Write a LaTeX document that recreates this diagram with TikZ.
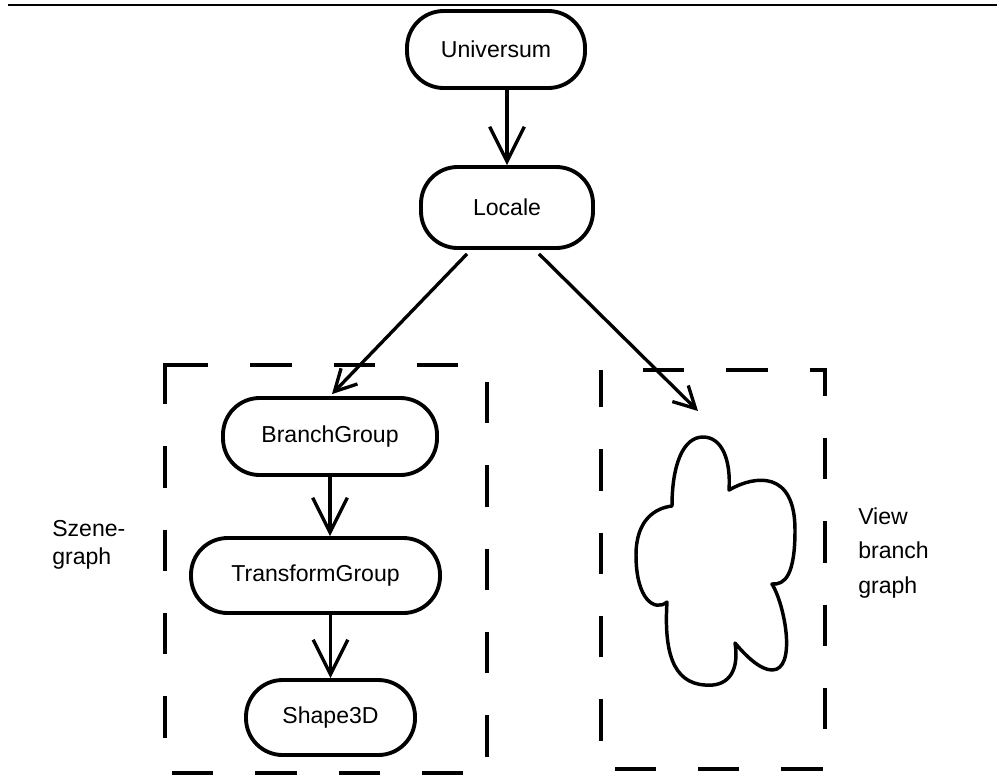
\documentclass[tikz,border=0pt]{standalone}
\usepackage{fontspec}
\setmainfont{Liberation Sans}
\usetikzlibrary{arrows.meta,calc}
\begin{document}
\begin{tikzpicture}[x=0.75pt,y=-0.75pt,
  block/.style={draw, line width=2.9pt, rounded corners=27.5pt, inner sep=0pt,
    font=\fontsize{17.3}{21}\selectfont},
  flow/.style={line width=2.5pt,
    -{Straight Barb[length=26pt,width=26pt,line width=2.5pt]}},
  flowsmall/.style={line width=2.5pt,
    -{Straight Barb[length=16pt,width=17pt,line width=2.5pt]}},
  frame/.style={line width=3pt, dash pattern=on 31pt off 31.5pt},
  note/.style={inner sep=0pt, align=left, anchor=west,
    font=\fontsize{17.3}{21}\selectfont}
]
\useasboundingbox (0,0) rectangle (999,776);

% header rule
\draw[line width=1.5pt] (8,5) -- (997,5);

% scene graph nodes
\node[block, minimum width=133.5pt, minimum height=57.75pt] (univ)   at (496,49.5)  {Universum};
\node[block, minimum width=129pt,   minimum height=60.75pt] (locale) at (507,207.5) {Locale};
\node[block, minimum width=160.5pt, minimum height=57.75pt] (bg)     at (330,436.5) {BranchGroup};
\node[block, minimum width=186.75pt,minimum height=56.25pt] (tg)     at (315.5,575.5) {TransformGroup};
\node[block, minimum width=126.75pt,minimum height=56.25pt] (shape)  at (330.5,717.5) {Shape3D};

% connectors
\draw[flow] (univ.south -| locale.north) -- (locale.north);
\draw[flowsmall] ($(locale.south)+(-40,4)$) -- ($(bg.north)+(2,-2)$);
\coordinate (viewtip) at (698,411);
\draw[flowsmall] ($(locale.south)+(32,4)$) -- (viewtip);
\draw[flow] (bg.south) -- (bg.south |- tg.north);
\draw[flow] (tg.south -| shape.north) -- (shape.north);

% dashed frame around the scene graph
\draw[frame] (165,363) -- (165,772);
\draw[frame] (167,365) -- (487,365);
\draw[frame] (487,382) -- (487,772);
\draw[frame] (172,773) -- (487,773);

% dashed frame around the view branch
\draw[frame, dash phase=31pt] (601,370) -- (825,370) -- (825,769) -- (601,769) -- cycle;

% view branch cloud
\draw[line width=2.6pt, line join=round]
  (672,506) .. controls (672,465) and (683,437) .. (703,437)
  .. controls (722,437) and (731,460) .. (729,490)
  .. controls (755,475) and (795,470) .. (795,530)
  .. controls (795,575) and (785,585) .. (772,584)
  .. controls (785,605) and (797,670) .. (772,670)
  .. controls (760,670) and (745,655) .. (735,643)
  .. controls (740,675) and (725,687) .. (705,685)
  .. controls (672,683) and (664,650) .. (667,602)
  .. controls (655,612) and (636,600) .. (636,555)
  .. controls (636,520) and (655,508) .. cycle;

% side labels
\node[note] (szene) at (52,545) {Szene-\\graph};
\node[note, font=\fontsize{17.3}{26}\selectfont] (view) at (858,553) {View\\branch\\graph};
\end{tikzpicture}
\end{document}
